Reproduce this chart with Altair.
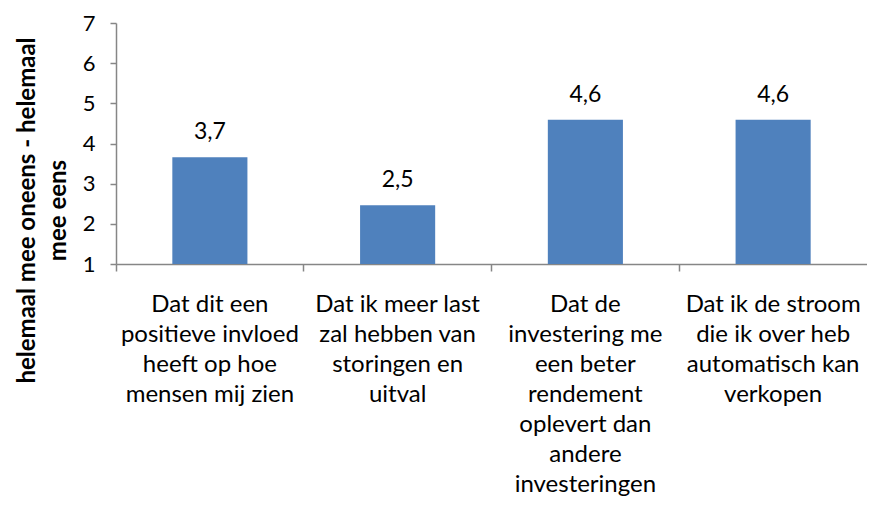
import altair as alt
import pandas as pd

# ---- data ----
categories = [
    "Dat dit een|positieve invloed|heeft op hoe|mensen mij zien",
    "Dat ik meer last|zal hebben van|storingen en|uitval",
    "Dat de|investering me|een beter|rendement|oplevert dan|andere|investeringen",
    "Dat ik de stroom|die ik over heb|automatisch kan|verkopen",
]
values = [3.66, 2.46, 4.59, 4.59]
y_ticks = [1, 2, 3, 4, 5, 6, 7]
y_domain = [1, 7]
axis_title = ["helemaal mee oneens - helemaal", "mee eens"]

df = pd.DataFrame({
    "cat": categories,
    "value": values,
    "base": [y_domain[0]] * len(values),
})

FONT = "Lato"
AXIS_GREY = "#868686"
BAR_BLUE = "#4F81BD"

x_enc = alt.X(
    "cat:N",
    sort=categories,
    scale=alt.Scale(paddingInner=0, paddingOuter=0),
    axis=alt.Axis(
        title=None,
        labelAngle=0,
        labelExpr="split(datum.label, '|')",
        labelFont=FONT,
        labelFontSize=24,
        labelLineHeight=30,
        labelColor="black",
        labelPadding=21,
        labelLimit=0,
        labelOverlap=False,
        labelBaseline="top",
        bandPosition=0,
        tickSize=7,
        tickWidth=1.5,
        tickColor=AXIS_GREY,
        domainColor=AXIS_GREY,
        domainWidth=1.5,
        grid=False,
    ),
)

y_enc = alt.Y(
    "value:Q",
    scale=alt.Scale(domain=y_domain, nice=False, zero=False),
    axis=alt.Axis(
        title=axis_title,
        values=y_ticks,
        grid=False,
        labelFont=FONT,
        labelFontSize=22,
        labelColor="black",
        labelPadding=15,
        tickSize=6,
        tickWidth=1.5,
        tickColor=AXIS_GREY,
        domainColor=AXIS_GREY,
        domainWidth=1.5,
        titleFont=FONT,
        titleFontSize=24,
        titleFontWeight="bold",
        titleColor="black",
        titleLineHeight=31,
        titleAngle=270,
        titleAlign="center",
        titleBaseline="alphabetic",
        titleX=-82,
        titleY=187,
    ),
)

bars = alt.Chart(df).mark_bar(
    color=BAR_BLUE, width=alt.RelativeBandSize(0.4)
).encode(x=x_enc, y=y_enc, y2=alt.Y2("base"))

labels = alt.Chart(df).transform_calculate(
    lbl="replace(format(datum.value, '.1f'), '.', ',')"
).mark_text(
    font=FONT, fontSize=23, color="black", baseline="alphabetic", dy=-18
).encode(x=alt.X("cat:N", sort=categories), y=alt.Y("value:Q"), text="lbl:N")

chart = alt.layer(bars, labels).properties(
    width=751,
    height=241,
    autosize=alt.AutoSizeParams(type="none"),
    padding={"left": 108, "top": 15, "right": 0, "bottom": 237},
    background="white",
).configure_view(stroke=None)

chart.save("out.html", embed_options={"renderer": "svg", "actions": False})
